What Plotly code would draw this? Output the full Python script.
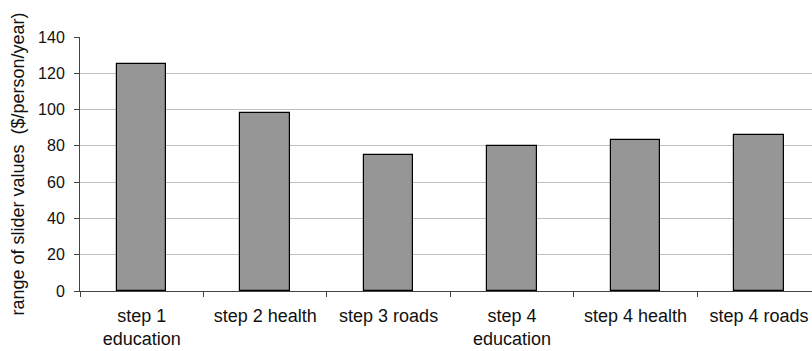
import plotly.graph_objects as go

# Slider ranges per step and service
categories = ["step 1<br>education", "step 2 health", "step 3 roads",
              "step 4<br>education", "step 4 health", "step 4 roads"]
values = [125, 98, 75, 79.7, 83, 86]
y_ticks = [0, 20, 40, 60, 80, 100, 120, 140]

fig = go.Figure(
    go.Bar(
        x=categories,
        y=values,
        width=0.4,
        marker=dict(color="#969696", line=dict(color="#000000", width=1.2)),
        hoverinfo="skip",
    )
)

family = "Liberation Sans, Arial, sans-serif"
cat_font = dict(family=family, size=18, color="#111111")
tick_font = dict(family=family, size=16, color="#111111")

fig.update_layout(
    width=812,
    height=351,
    margin=dict(l=80, r=0, t=37, b=60),
    paper_bgcolor="white",
    plot_bgcolor="white",
    showlegend=False,
    font=tick_font,
    bargap=0,
)

fig.update_xaxes(
    type="category",
    range=[-0.5, 5.43],
    showgrid=False,
    showline=True,
    linecolor="#444444",
    linewidth=1,
    ticks="outside",
    tickson="boundaries",
    ticklen=5,
    tickcolor="#444444",
    tickfont=cat_font,
    ticklabelstandoff=8,
    zeroline=False,
)

fig.update_yaxes(
    range=[0, 140],
    tickvals=y_ticks,
    showgrid=True,
    gridcolor="#c0c0c0",
    gridwidth=1,
    showline=True,
    linecolor="#444444",
    linewidth=1,
    ticks="outside",
    ticklen=5,
    tickcolor="#444444",
    tickfont=tick_font,
    ticklabelstandoff=6,
    zeroline=False,
    title=dict(text="range of slider values  ($/person/year)",
               font=dict(family=family, size=18, color="#111111"), standoff=8),
)

fig.write_html("out.html")
